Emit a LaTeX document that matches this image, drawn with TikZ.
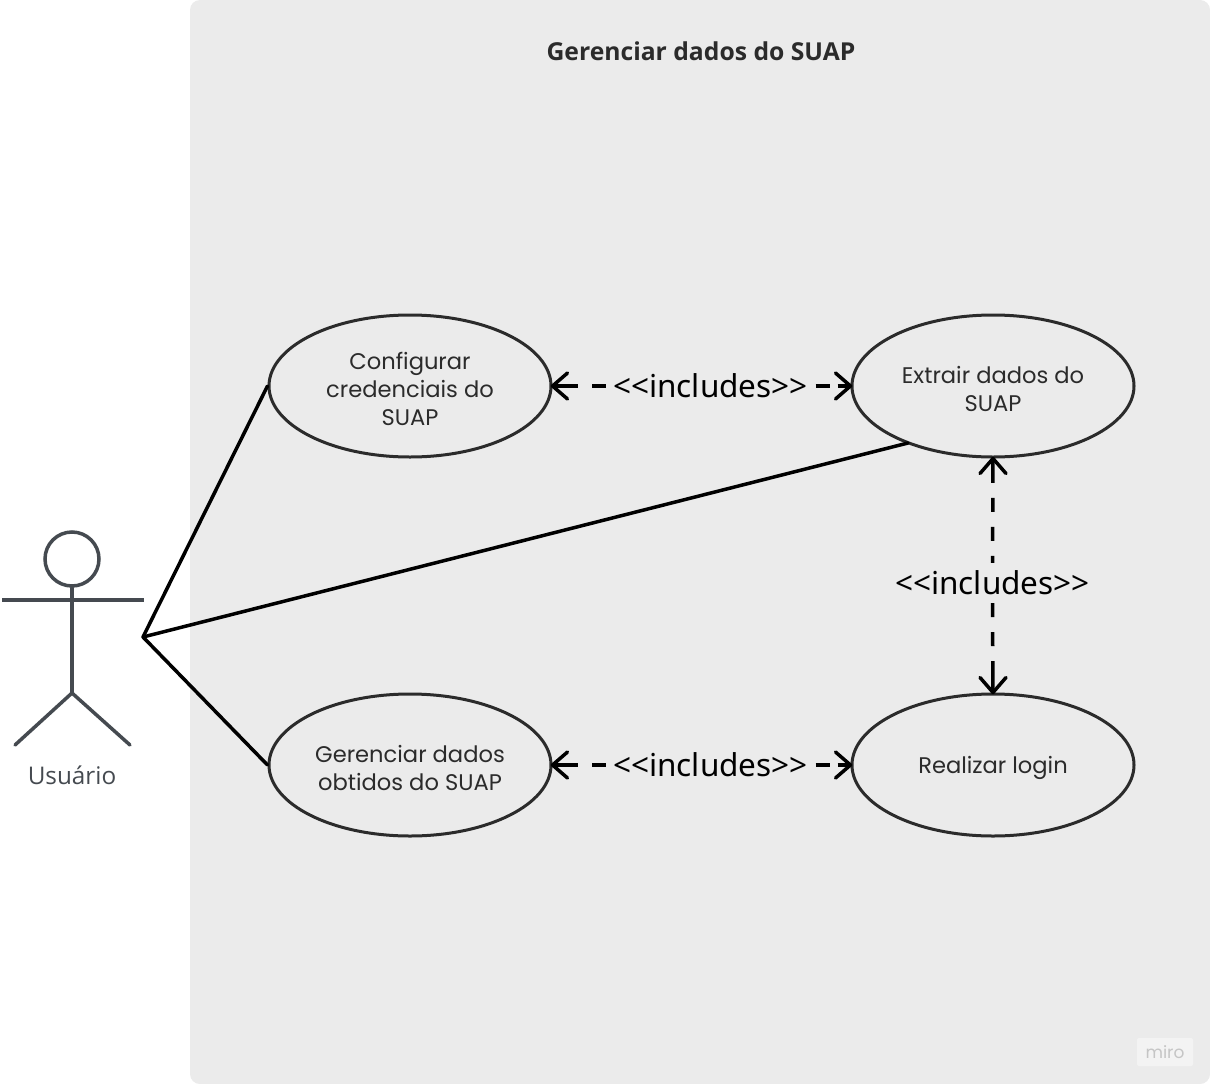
\documentclass[tikz,border=0pt]{standalone}
\usepackage{fontspec}
\setmainfont{Open Sans}
\newfontfamily\ucfont{Poppins}
\newfontfamily\lblfont{Noto Sans}
\usetikzlibrary{shapes.geometric}
\definecolor{panelc}{HTML}{EBEBEB}
\definecolor{inkc}{HTML}{2B2B2B}
\definecolor{actorc}{HTML}{454A50}
\newcommand\ucstrut{\rule{0pt}{23pt}}
\tikzset{
  x=1pt,y=-1pt,
  panel/.style={fill=panelc,draw=none,rounded corners=10pt},
  usecase/.style={ellipse,draw=inkc,line width=3pt,minimum width=282pt,minimum height=142pt,inner sep=0pt,align=center,text=inkc,font=\ucfont\fontsize{22.6}{28.3}\selectfont},
  assoc/.style={draw=black,line width=3.5pt,line cap=round},
  limb/.style={draw=actorc,line width=3.5pt,line cap=round},
  dep/.style={draw=black,line width=3.5pt},
  tipstroke/.style={draw=black,line width=3.5pt,line cap=round,line join=round},
  inc/.style={font=\lblfont\fontsize{31.5}{36}\selectfont,text=black,inner xsep=7.5pt,inner ysep=0pt,minimum height=40pt},
}
\begin{document}
\begin{tikzpicture}
\useasboundingbox (0,0) rectangle (1210,1084);
\fill[white] (0,0) rectangle (1210,1084);
\path[panel] (190,0) rectangle (1210,1084);
\node[font=\bfseries\fontsize{24.7}{28}\selectfont,text=inkc] (title) at (701,51) {Gerenciar dados do SUAP};
% watermark
\node[fill=white!40!panelc,rounded corners=2pt,minimum width=56pt,minimum height=28pt,inner sep=0pt,text=black!16!panelc,font=\ucfont\fontsize{17}{20}\selectfont] (miro) at (1165,1052) {miro};
% use cases
\node[usecase] (cfg) at (410,386) {\ucstrut Configurar\\credenciais do\\SUAP};
\node[usecase] (ext) at (993,386) {\ucstrut Extrair dados do\\SUAP};
\node[usecase] (ger) at (410,765) {\ucstrut Gerenciar dados\\obtidos do SUAP};
\node[usecase] (log) at (993,765) {\ucstrut Realizar login};
% actor
\node[circle,draw=actorc,line width=3.5pt,minimum size=54pt,inner sep=0pt] (head) at (72,559) {};
\coordinate (hip) at (72,693);
\coordinate (armL) at (2,600);
\coordinate (armR) at (144,600);
\coordinate (legL) at (15,745);
\coordinate (legR) at (130,745);
\draw[limb] (head.south) -- (hip);
\draw[limb,line cap=butt] (armL) -- (armR);
\draw[limb] (legL) -- (hip) -- (legR);
\node[font=\fontsize{24.3}{28}\selectfont,text=actorc] (user) at (72,775) {Usuário};
% associations
\coordinate (hub) at (143,637);
\coordinate (extp) at (908,443);
\draw[assoc] (hub) -- (cfg.west);
\draw[assoc] (hub) -- (extp);
\draw[assoc] (hub) -- (ger.west);
% includes labels
\node[inc] (l1) at (710.5,386) {<{}<includes>{}>};
\node[inc] (l2) at (710.5,765) {<{}<includes>{}>};
\node[inc] (l3) at (992.5,583) {<{}<includes>{}>};
% dependencies
\foreach \lab/\a/\b in {l1/cfg/ext,l2/ger/log}{
  \draw[dep,dash pattern=on 14pt off 14pt on 60pt off 1pt] (\lab.west) -- (\a.east);
  \draw[dep,dash pattern=on 14pt off 8pt on 60pt off 1pt] (\lab.east) -- (\b.west);
  \draw[tipstroke] (\a.east) ++(15,-13) -- (\a.east) -- ++(15,13);
  \draw[tipstroke] (\b.west) ++(-15,-13) -- (\b.west) -- ++(-15,13);
}
\draw[dep,dash pattern=on 7pt off 15pt on 14pt off 15pt on 14pt off 15pt on 60pt off 1pt] (l3.north) -- (ext.south);
\draw[dep,dash pattern=on 14pt off 15pt on 14pt off 15pt on 60pt off 1pt] (l3.south) -- (log.north);
\draw[tipstroke] (ext.south) ++(-13,15) -- (ext.south) -- ++(13,15);
\draw[tipstroke] (log.north) ++(-13,-15) -- (log.north) -- ++(13,-15);
\end{tikzpicture}
\end{document}
